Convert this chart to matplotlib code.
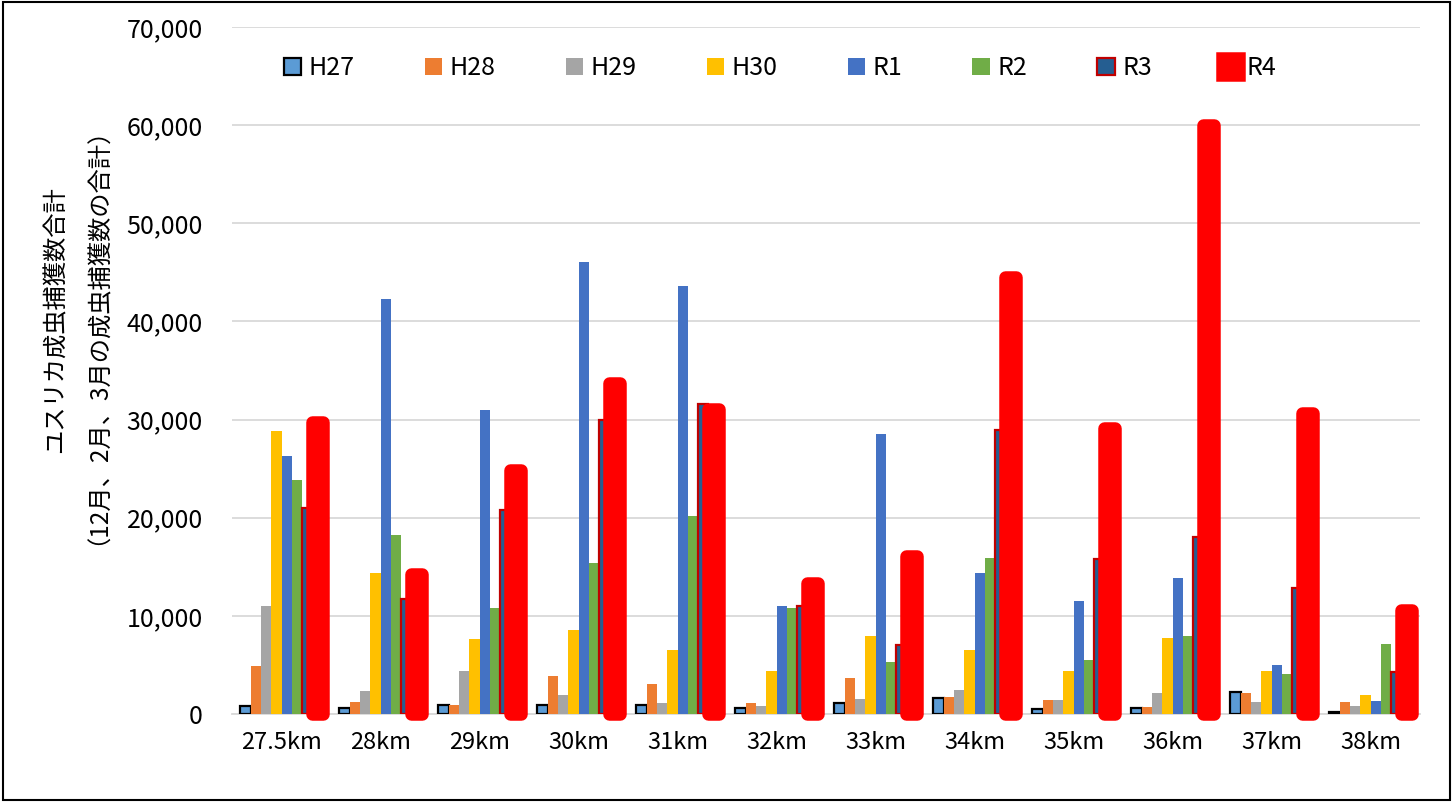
import numpy as np
import matplotlib
matplotlib.use("Agg")
import matplotlib.pyplot as plt
from matplotlib.patches import Rectangle

plt.rcParams['font.family'] = ['Noto Sans CJK JP', 'DejaVu Sans']

# 地点
kyori = ['27.5km', '28km', '29km', '30km', '31km', '32km',
         '33km', '34km', '35km', '36km', '37km', '38km']

# 年度別の成虫捕獲数（12月、2月、3月の合計）
h27 = [800, 600, 900, 900, 900, 650, 1100, 1600, 500, 600, 2250, 250]
h28 = [4900, 1200, 950, 3900, 3100, 1100, 3700, 1700, 1400, 700, 2100, 1250]
h29 = [11000, 2350, 4400, 1900, 1100, 800, 1500, 2400, 1400, 2100, 1200, 800]
h30 = [28850, 14400, 7600, 8600, 6500, 4400, 7950, 6500, 4400, 7700, 4400, 1950]
r1 = [26300, 42300, 31000, 46100, 43600, 11050, 28500, 14400, 11500, 13900, 5000, 1350]
r2 = [23800, 18200, 10800, 15400, 20200, 10800, 5350, 15900, 5500, 8000, 4050, 7150]
r3 = [21000, 11700, 20800, 30000, 31600, 11050, 7000, 28900, 15800, 18000, 12800, 4300]
r4 = [29800, 14300, 24900, 33700, 31100, 13400, 16100, 44500, 29100, 60000, 30700, 10600]

nendo = ['H27', 'H28', 'H29', 'H30', 'R1', 'R2', 'R3', 'R4']
series = [h27, h28, h29, h30, r1, r2, r3, r4]

fill = ['#5B9BD5', '#ED7D31', '#A5A5A5', '#FFC000', '#4472C4', '#70AD47', '#255E91', '#FF0000']
edge = ['black', 'none', 'none', 'none', 'none', 'none', '#C00000', '#FF0000']
lw = [1.6, 0, 0, 0, 0, 0, 1.6, 9]

fig = plt.figure(figsize=(14.53, 8.02), dpi=100)
ax = fig.add_axes([0.1597, 0.1097, 0.8176, 0.8566])

x = np.arange(len(kyori))
w = 0.104
for j in range(len(nendo)):
    b = ax.bar(x + (j - 3.5) * w, series[j], w, color=fill[j], edgecolor=edge[j],
               linewidth=lw[j], label=nendo[j], zorder=3 + j)
    if nendo[j] == 'R4':
        for p in b:
            p.set_joinstyle('round')
            p.set_clip_on(False)

ax.set_xlim(-0.5, len(kyori) - 0.5)
ax.set_ylim(0, 70000)
ax.set_yticks(np.arange(0, 70001, 10000))
ax.set_yticklabels([f'{v:,}' for v in range(0, 70001, 10000)])
ax.set_xticks(x)
ax.set_xticklabels(kyori)
ax.tick_params(axis='y', length=0, pad=21, labelsize=18)
ax.tick_params(axis='x', length=0, pad=12, labelsize=17)
ax.grid(axis='y', color='#D9D9D9', linewidth=1.3, zorder=0)
ax.set_axisbelow(True)
for s in ['top', 'right', 'left']:
    ax.spines[s].set_visible(False)
ax.spines['bottom'].set_color('#D9D9D9')
ax.spines['bottom'].set_linewidth(1.3)

fig.text(0.038, 0.601, 'ユスリカ成虫捕獲数合計', rotation=90, ha='center', va='center', fontsize=17.5)
fig.text(0.059, 0.596, '（12月、2月、3月の成虫捕獲数の合計）', rotation=90, ha='center', va='center', fontsize=17.5)

fig.legend(loc='center', bbox_to_anchor=(0.537, 0.915), ncol=8, frameon=False,
           fontsize=18, handlelength=0.7, handleheight=0.7, handletextpad=0.3,
           columnspacing=2.8)

fig.patches.append(Rectangle((0.002, 0.003), 0.996, 0.994, transform=fig.transFigure,
                             fill=False, edgecolor='black', linewidth=1.5))

fig.savefig('out.png', dpi=100)
